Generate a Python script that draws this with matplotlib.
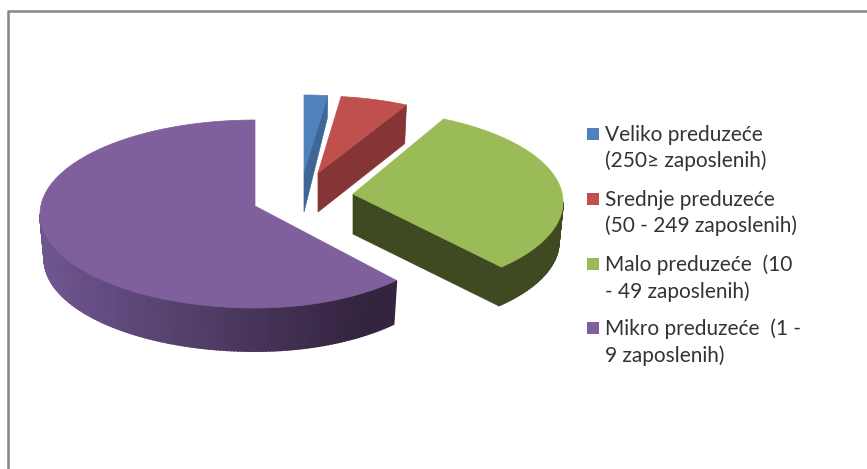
import numpy as np
import matplotlib
matplotlib.use('Agg') # non-GUI backend
import matplotlib.pyplot as plt
from matplotlib.colors import to_rgb
from matplotlib.patches import Polygon, Rectangle

# values (percent of all enterprises)
names = ['Veliko preduzeće\n(250≥ zaposlenih)',
         'Srednje preduzeće\n(50 - 249 zaposlenih)',
         'Malo preduzeće  (10\n- 49 zaposlenih)',
         'Mikro preduzeće  (1 -\n9 zaposlenih)']
shares = [1.8, 5.3, 30.4, 62.5]
top_colors = ['#4F81BD', '#C0504D', '#9BBB59', '#7F609C']
wall_colors = ['#3E6796', '#853535', '#3F4A22', '#6F5690']
wall_dark = ['#3E6796', '#853535', '#3F4A22', '#33243F']

# exploded layout in pixels: tip x, tip y, ellipse centre y, depth
tips = [(304, 172, 187, 40), (318, 173, 188, 39), (353, 194, 202, 40), (255, 206, 214, 45)]
END_DEPTH = [21, 37, 40, 45]
RX_RIGHT = [210, 205, 210, 200]
RX_LEFT = [210, 205, 210, 215]
RY = [92, 92, 92, 94]
BOTTOM_SCALE = 0.98


def rim(i, deg, lower=False):
    tx, ty, cy, depth = tips[i]
    t = np.radians(deg)
    s = BOTTOM_SCALE if lower else 1.0
    rx = np.where(np.sin(t) >= 0, RX_RIGHT[i], RX_LEFT[i])
    y = cy - s * RY[i] * np.cos(t)
    if lower:
        y = y + depth
    return tx + s * rx * np.sin(t), y


def draw_wedge(ax, i, a0, a1):
    tx, ty, cy, depth = tips[i]
    # cut face on the clockwise end, only seen when it looks towards the viewer
    if a1 < 180:
        x1, y1 = rim(i, a1)
        x2, y2 = rim(i, a1, True)
        y2 = y2 - depth + END_DEPTH[i]
        ax.add_patch(Polygon([(tx, ty), (x1, y1), (x2, y2), (tx, ty + depth)],
                             fc=wall_dark[i], ec=wall_dark[i], lw=0.5))
    # outer wall, cut in thin strips so the shading can follow x
    lo, hi = max(a0, 90), min(a1, 270)
    if hi > lo:
        steps = np.linspace(lo, hi, int(hi - lo) + 2)
        c_left = np.array(to_rgb(wall_colors[i]))
        c_right = np.array(to_rgb(wall_dark[i]))
        for d0, d1 in zip(steps[:-1], steps[1:]):
            xa, ya = rim(i, d0)
            xb, yb = rim(i, d1)
            xc, yc = rim(i, d1, True)
            xd, yd = rim(i, d0, True)
            f = np.clip((tx + 110 - xa) / 325, 0, 1)
            col = c_right + (c_left - c_right) * f
            ax.add_patch(Polygon([(xa, ya), (xb, yb), (xc, yc), (xd, yd)],
                                 fc=col, ec=col, lw=1.2))
    # top face
    arc = np.linspace(a0, a1, 120)
    xs, ys = rim(i, arc)
    pts = [(tx, ty)] + list(zip(xs, ys))
    ax.add_patch(Polygon(pts, fc=top_colors[i], ec=top_colors[i], lw=0.5))


fig = plt.figure(figsize=(8.67, 4.69), dpi=100)
ax = fig.add_axes([0, 0, 1, 1])
ax.set_xlim(0, 867)
ax.set_ylim(469, 0)
ax.axis('off')

# chart frame, open on the right and at the bottom
ax.plot([8, 8], [469, 11], color='#868686', lw=1.8, solid_capstyle='butt')
ax.plot([7, 867], [11, 11], color='#868686', lw=1.8, solid_capstyle='butt')

edges = np.concatenate([[0], np.cumsum(shares)]) * 3.6
for i in [3, 0, 1, 2]:
    draw_wedge(ax, i, edges[i], edges[i + 1])

legend_y = [134, 199, 264, 328]
for name, col, y in zip(names, top_colors, legend_y):
    ax.add_patch(Rectangle((587, y - 6), 12, 12, fc=col, ec='none'))
    ax.text(605, y + 14, name, family='Lato', fontsize=15, color='#333333',
            va='center', ha='left', linespacing=1.36)

fig.savefig('out.png', dpi=100)
